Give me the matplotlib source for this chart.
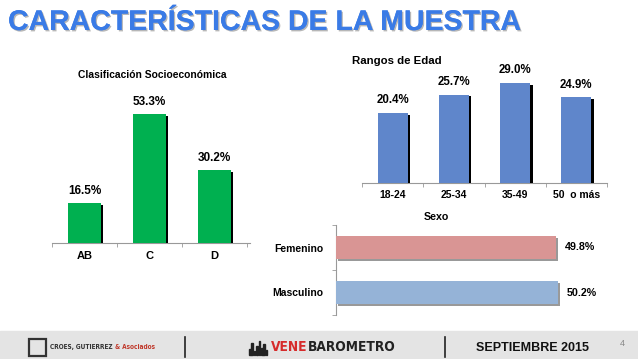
import numpy as np
import matplotlib.pyplot as plt
import matplotlib.patheffects as pe
from matplotlib.patches import Rectangle

plt.rcParams['font.family'] = ['Liberation Sans', 'DejaVu Sans']

# data
socio_cats = ['AB', 'C', 'D']
socio_vals = [16.5, 53.3, 30.2]
edad_cats = ['18-24', '25-34', '35-49', '50  o más']
edad_vals = [20.4, 25.7, 29.0, 24.9]
sexo_cats = ['Masculino', 'Femenino']
sexo_vals = [50.2, 49.8]

W, H = 638, 359
fig = plt.figure(figsize=(W / 100, H / 100), dpi=100)


def px_axes(x0, y0, x1, y1):
    # pixel box (top-left origin) -> axes
    return fig.add_axes([x0 / W, 1 - y1 / H, (x1 - x0) / W, (y1 - y0) / H])


shadow_k = [pe.withSimplePatchShadow(offset=(1.8, -1.2), shadow_rgbFace='black', alpha=1.0), pe.Normal()]
shadow_g = [pe.withSimplePatchShadow(offset=(1.5, -1.5), shadow_rgbFace='#555555', alpha=0.6), pe.Normal()]

# title
fig.text(8 / W, 1 - 23 / H, 'CARACTERÍSTICAS DE LA MUESTRA', fontsize=20.5, fontweight='bold',
         color='#3A7BE6', va='center', ha='left',
         path_effects=[pe.withSimplePatchShadow(offset=(1, -1), shadow_rgbFace='#888888', alpha=0.6), pe.Normal()])

# --- Clasificación Socioeconómica
ax1 = px_axes(52, 98, 250, 243)
x = np.arange(len(socio_cats))
bars = ax1.bar(x, socio_vals, width=0.5, color='#00B050', zorder=3)
for b in bars:
    b.set_path_effects(shadow_k)
for xi, v in zip(x, socio_vals):
    ax1.text(xi, v + 2.5, f'{v:.1f}%', ha='center', va='bottom', fontsize=8.5, fontweight='bold')
ax1.set_xlim(-0.5, 2.55)
ax1.set_ylim(0, 60)
ax1.set_xticks(x)
ax1.set_xticklabels(socio_cats, fontsize=8, fontweight='bold')
ax1.set_xticks([-0.5, 0.5, 1.5, 2.5], minor=True)
ax1.tick_params(axis='x', which='major', length=0, pad=6)
ax1.tick_params(axis='x', which='minor', length=3, color='#999999')
ax1.set_yticks([])
for s in ['top', 'right', 'left']:
    ax1.spines[s].set_visible(False)
ax1.spines['bottom'].set_color('#999999')
fig.text(152 / W, 1 - 75 / H, 'Clasificación Socioeconómica', ha='center', va='center',
         fontsize=7.4, fontweight='bold')

# --- Rangos de Edad
ax2 = px_axes(362, 73, 607, 183)
x = np.arange(len(edad_cats))
bars = ax2.bar(x, edad_vals, width=0.49, color='#5F86CB', zorder=3)
for b in bars:
    b.set_path_effects(shadow_k)
for xi, v in zip(x, edad_vals):
    ax2.text(xi, v + 2.0, f'{v:.1f}%', ha='center', va='bottom', fontsize=8.3, fontweight='bold')
ax2.set_xlim(-0.5, 3.5)
ax2.set_ylim(0, 32)
ax2.set_xticks(x)
ax2.set_xticklabels(edad_cats, fontsize=7.5, fontweight='bold')
ax2.set_xticks([-0.5, 0.5, 1.5, 2.5, 3.5], minor=True)
ax2.tick_params(axis='x', which='major', length=0, pad=5)
ax2.tick_params(axis='x', which='minor', length=3, color='#999999')
ax2.set_yticks([])
for s in ['top', 'right', 'left']:
    ax2.spines[s].set_visible(False)
ax2.spines['bottom'].set_color('#999999')
fig.text(352 / W, 1 - 61 / H, 'Rangos de Edad', ha='left', va='center', fontsize=8.2, fontweight='bold')

# --- Sexo
ax3 = px_axes(336, 225, 601, 315)
y = np.arange(len(sexo_cats))
bars = ax3.barh(y, sexo_vals, height=0.51, color=['#95B3D7', '#D99594'], zorder=3)
for b in bars:
    b.set_path_effects(shadow_g)
for yi, v in zip(y, sexo_vals):
    ax3.text(v + 2.0, yi, f'{v:.1f}%', ha='left', va='center', fontsize=7.7, fontweight='bold')
ax3.set_ylim(-0.5, 1.5)
ax3.set_xlim(0, 60)
ax3.set_yticks(y)
ax3.set_yticklabels(sexo_cats, fontsize=7.5, fontweight='bold')
ax3.set_yticks([-0.5, 0.5, 1.5], minor=True)
ax3.tick_params(axis='y', which='major', length=0, pad=9)
ax3.tick_params(axis='y', which='minor', length=3, color='#999999')
ax3.set_xticks([])
for s in ['top', 'right', 'bottom']:
    ax3.spines[s].set_visible(False)
ax3.spines['left'].set_color('#999999')
fig.text(436 / W, 1 - 217 / H, 'Sexo', ha='center', va='center', fontsize=7.7, fontweight='bold')

# --- footer
fig.patches.append(Rectangle((0, 0), 1, 28 / H, transform=fig.transFigure, color='#E4E4E4', zorder=0))
fig.patches.append(Rectangle((29 / W, 1 - 356 / H), 17 / W, 17 / H, transform=fig.transFigure,
                             fill=False, ec='#333333', lw=1.6))
cg = fig.text(50 / W, 1 - 347 / H, 'CROES, GUTIERREZ ', fontsize=4.7, fontweight='bold', color='#333333',
              va='center', ha='left', family='DejaVu Sans', fontstretch='condensed')
asoc = plt.annotate('& Asociados', xy=(1, 0.5), xycoords=cg, fontsize=4.7, fontweight='bold',
                    color='#C0392B', va='center', ha='left', family='DejaVu Sans', fontstretch='condensed',
                    annotation_clip=False)
fig.add_artist(asoc)
for xs in [185, 445]:
    fig.add_artist(plt.Line2D([xs / W, xs / W], [1 - 357 / H, 1 - 337 / H], color='#222222', lw=1.2))
for i, hgt in enumerate([6, 12, 4, 9, 14, 7, 11, 5]):
    fig.patches.append(Rectangle(((249 + i * 2.4) / W, 1 - 355 / H), 1.6 / W, hgt / H,
                                 transform=fig.transFigure, color='#222222'))
vene = fig.text(271 / W, 1 - 347 / H, 'VENE', fontsize=9.8, fontweight='bold', color='#D62B2B', va='center',
                ha='left', family='DejaVu Sans', fontstretch='condensed')
baro = plt.annotate('BAROMETRO', xy=(1, 0.5), xycoords=vene, fontsize=9.8, fontweight='bold',
                    color='#222222', va='center', ha='left', family='DejaVu Sans', fontstretch='condensed',
                    annotation_clip=False)
fig.add_artist(baro)
fig.text(533 / W, 1 - 348 / H, 'SEPTIEMBRE 2015', fontsize=9, fontweight='bold', color='#111111',
         va='center', ha='center')
fig.text(622 / W, 1 - 344 / H, '4', fontsize=6.5, color='#888888', va='center', ha='center')

fig.savefig('out.png', dpi=100)
